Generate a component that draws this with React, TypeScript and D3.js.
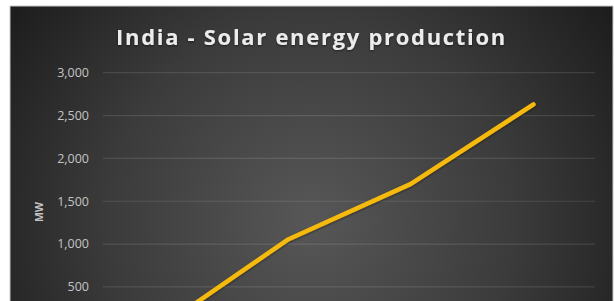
import { useMemo } from "react";
import * as d3 from "d3";

const YEARS = ["2011", "2012", "2013", "2014"];
const SOLAR_MW = [60, 1050, 1700, 2630];
// the 0 tick sits below the visible frame, so only the visible ones are listed
const Y_TICKS = [500, 1000, 1500, 2000, 2500, 3000];
const TITLE = "India - Solar energy production";
const Y_LABEL = "MW";

const WIDTH = 614;
const HEIGHT = 301;
const PANEL = { x: 10, y: 6, w: 603, h: 420 };
const PLOT = { left: 103, right: 595, top: 72.7, bottom: 329.8 };

export default function App() {
  const xScale = useMemo(
    () => d3.scaleBand<string>().domain(YEARS).range([PLOT.left, PLOT.right]),
    []
  );
  const yScale = useMemo(
    () => d3.scaleLinear().domain([0, 3000]).range([PLOT.bottom, PLOT.top]),
    []
  );

  const points = YEARS.map((year, i) => ({ year, value: SOLAR_MW[i] }));
  const lineGen = d3
    .line<{ year: string; value: number }>()
    .x((d) => (xScale(d.year) ?? 0) + xScale.bandwidth() / 2)
    .y((d) => yScale(d.value));

  const font = "'Open Sans', 'DejaVu Sans', sans-serif";

  return (
    <svg
      width={WIDTH}
      height={HEIGHT}
      style={{ position: "absolute", left: 0, top: 0, background: "#fff" }}
    >
      <defs>
        <radialGradient
          id="bg"
          gradientUnits="userSpaceOnUse"
          cx={311}
          cy={220}
          r={370}
        >
          <stop offset="0" stopColor="#575757" />
          <stop offset="0.55" stopColor="#3b3b3b" />
          <stop offset="1" stopColor="#1c1c1c" />
        </radialGradient>
        <filter id="glow" x="-10%" y="-10%" width="120%" height="120%">
          <feDropShadow dx="0" dy="1" stdDeviation="1" floodColor="#000" floodOpacity="0.5" />
        </filter>
      </defs>

      {/* chart area */}
      <rect
        x={PANEL.x}
        y={PANEL.y}
        width={PANEL.w}
        height={PANEL.h}
        fill="url(#bg)"
        stroke="#c8c8c8"
        strokeWidth={1}
      />

      {/* title */}
      <text
        x={PANEL.x + PANEL.w / 2}
        y={45}
        textAnchor="middle"
        fontFamily={font}
        fontWeight={700}
        fontSize={22}
        letterSpacing={1.7}
        fill="#ececec"
        filter="url(#glow)"
      >
        {TITLE}
      </text>

      {/* gridlines + y tick labels */}
      {Y_TICKS.map((t) => (
        <g key={t}>
          <line
            x1={PLOT.left}
            x2={PLOT.right}
            y1={yScale(t)}
            y2={yScale(t)}
            stroke="#ffffff"
            strokeOpacity={0.11}
            strokeWidth={1.2}
          />
          <text
            x={89}
            y={yScale(t)}
            dy="0.35em"
            textAnchor="end"
            fontFamily={font}
            fontSize={12.5}
            fill="#c4c4c4"
          >
            {d3.format(",")(t)}
          </text>
        </g>
      ))}

      {/* y axis title */}
      <text
        transform={`translate(39,212) rotate(-90)`}
        textAnchor="middle"
        dy="0.35em"
        fontFamily={font}
        fontWeight={700}
        fontSize={10.5}
        fill="#c4c4c4"
      >
        {Y_LABEL}
      </text>

      {/* series */}
      <path
        d={lineGen(points) ?? ""}
        fill="none"
        stroke="#f6b90a"
        strokeWidth={4.5}
        strokeLinecap="round"
        strokeLinejoin="round"
        filter="url(#glow)"
      />
    </svg>
  );
}
